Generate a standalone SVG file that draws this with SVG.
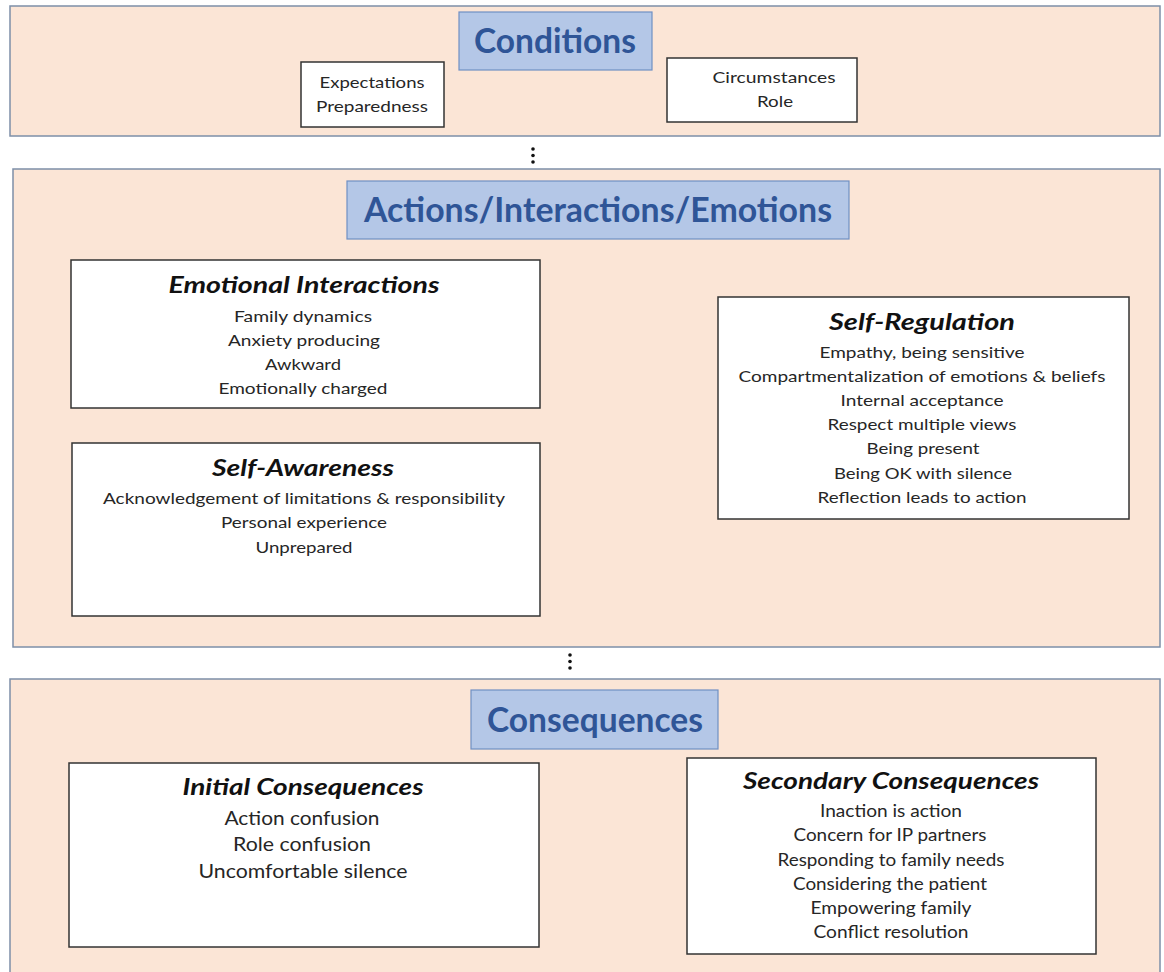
<svg xmlns="http://www.w3.org/2000/svg" width="1164" height="972" viewBox="0 0 1164 972">
<style>
.panel{fill:#fbe5d6;stroke:#7d8fa8;stroke-width:1.5}
.hbox{fill:#b4c7e7;stroke:#6f8fc4;stroke-width:1.2}
.htxt{font-family:Lato,"Liberation Sans",sans-serif;font-weight:bold;fill:#2f5597;text-anchor:middle;font-size:34px}
.box{fill:#ffffff;stroke:#333333;stroke-width:1.5}
.ttl{font-family:Lato,"Liberation Sans",sans-serif;font-weight:bold;font-style:italic;fill:#111111;text-anchor:middle}
.itm{font-family:Lato,"Liberation Sans",sans-serif;fill:#262626;text-anchor:middle}
.dot{fill:#111111}
</style>
<rect width="1164" height="972" fill="#ffffff"/>

<g id="panel-conditions">
<rect class="panel" x="10" y="6" width="1150" height="130"/>
</g>
<g id="panel-actions">
<rect class="panel" x="13" y="169" width="1147" height="478"/>
</g>
<g id="panel-consequences">
<rect class="panel" x="10" y="679" width="1150" height="300"/>
</g>

<g id="header-conditions">
<rect class="hbox" x="459" y="12" width="193" height="58"/>
<text class="htxt" x="555" y="53" textLength="162" lengthAdjust="spacingAndGlyphs">Conditions</text>
</g>
<g id="header-actions">
<rect class="hbox" x="347" y="181" width="502" height="58"/>
<text class="htxt" x="598" y="222" textLength="468" lengthAdjust="spacingAndGlyphs">Actions/Interactions/Emotions</text>
</g>
<g id="header-consequences">
<rect class="hbox" x="471" y="690" width="247" height="59"/>
<text class="htxt" x="595" y="732" textLength="216" lengthAdjust="spacingAndGlyphs">Consequences</text>
</g>

<g id="node-expectations">
<rect class="box" x="301" y="62" width="143" height="65"/>
<text class="itm" font-size="15" x="372" y="88" textLength="105" lengthAdjust="spacingAndGlyphs">Expectations</text>
<text class="itm" font-size="15" x="372" y="112" textLength="112" lengthAdjust="spacingAndGlyphs">Preparedness</text>
</g>
<g id="node-circumstances">
<rect class="box" x="667" y="58" width="190" height="64"/>
<text class="itm" font-size="15" x="774" y="83" textLength="123" lengthAdjust="spacingAndGlyphs">Circumstances</text>
<text class="itm" font-size="15" x="775" y="107" textLength="36" lengthAdjust="spacingAndGlyphs">Role</text>
</g>

<g id="node-emotional-interactions">
<rect class="box" x="71" y="260" width="469" height="148"/>
<text class="ttl" font-size="22" x="304" y="293" textLength="271" lengthAdjust="spacingAndGlyphs">Emotional Interactions</text>
<text class="itm" font-size="16" x="303" y="322" textLength="138" lengthAdjust="spacingAndGlyphs">Family dynamics</text>
<text class="itm" font-size="16" x="304" y="346" textLength="152" lengthAdjust="spacingAndGlyphs">Anxiety producing</text>
<text class="itm" font-size="16" x="303" y="370" textLength="76" lengthAdjust="spacingAndGlyphs">Awkward</text>
<text class="itm" font-size="16" x="303" y="394" textLength="169" lengthAdjust="spacingAndGlyphs">Emotionally charged</text>
</g>

<g id="node-self-awareness">
<rect class="box" x="72" y="443" width="468" height="173"/>
<text class="ttl" font-size="22" x="303" y="476" textLength="182" lengthAdjust="spacingAndGlyphs">Self-Awareness</text>
<text class="itm" font-size="16" x="304" y="504" textLength="402" lengthAdjust="spacingAndGlyphs">Acknowledgement of limitations &amp; responsibility</text>
<text class="itm" font-size="16" x="304" y="528" textLength="166" lengthAdjust="spacingAndGlyphs">Personal experience</text>
<text class="itm" font-size="16" x="304" y="553" textLength="97" lengthAdjust="spacingAndGlyphs">Unprepared</text>
</g>

<g id="node-self-regulation">
<rect class="box" x="718" y="297" width="411" height="222"/>
<text class="ttl" font-size="22" x="922" y="330" textLength="186" lengthAdjust="spacingAndGlyphs">Self-Regulation</text>
<text class="itm" font-size="16" x="922" y="358" textLength="205" lengthAdjust="spacingAndGlyphs">Empathy, being sensitive</text>
<text class="itm" font-size="16" x="922" y="382" textLength="367" lengthAdjust="spacingAndGlyphs">Compartmentalization of emotions &amp; beliefs</text>
<text class="itm" font-size="16" x="922" y="406" textLength="163" lengthAdjust="spacingAndGlyphs">Internal acceptance</text>
<text class="itm" font-size="16" x="922" y="430" textLength="189" lengthAdjust="spacingAndGlyphs">Respect multiple views</text>
<text class="itm" font-size="16" x="923" y="454" textLength="113" lengthAdjust="spacingAndGlyphs">Being present</text>
<text class="itm" font-size="16" x="923" y="479" textLength="178" lengthAdjust="spacingAndGlyphs">Being OK with silence</text>
<text class="itm" font-size="16" x="922" y="503" textLength="209" lengthAdjust="spacingAndGlyphs">Reflection leads to action</text>
</g>

<g id="node-initial-consequences">
<rect class="box" x="69" y="763" width="470" height="184"/>
<text class="ttl" font-size="22" x="303" y="795" textLength="241" lengthAdjust="spacingAndGlyphs">Initial Consequences</text>
<text class="itm" font-size="19" x="302" y="825" textLength="155" lengthAdjust="spacingAndGlyphs">Action confusion</text>
<text class="itm" font-size="19" x="302" y="851" textLength="138" lengthAdjust="spacingAndGlyphs">Role confusion</text>
<text class="itm" font-size="19" x="303" y="878" textLength="209" lengthAdjust="spacingAndGlyphs">Uncomfortable silence</text>
</g>

<g id="node-secondary-consequences">
<rect class="box" x="687" y="758" width="409" height="196"/>
<text class="ttl" font-size="22" x="891" y="789" textLength="296" lengthAdjust="spacingAndGlyphs">Secondary Consequences</text>
<text class="itm" font-size="17" x="891" y="817" textLength="142" lengthAdjust="spacingAndGlyphs">Inaction is action</text>
<text class="itm" font-size="17" x="890" y="841" textLength="193" lengthAdjust="spacingAndGlyphs">Concern for IP partners</text>
<text class="itm" font-size="17" x="891" y="866" textLength="227" lengthAdjust="spacingAndGlyphs">Responding to family needs</text>
<text class="itm" font-size="17" x="890" y="890" textLength="194" lengthAdjust="spacingAndGlyphs">Considering the patient</text>
<text class="itm" font-size="17" x="891" y="914" textLength="161" lengthAdjust="spacingAndGlyphs">Empowering family</text>
<text class="itm" font-size="17" x="891" y="938" textLength="155" lengthAdjust="spacingAndGlyphs">Conflict resolution</text>
</g>

<g id="connectors">
<circle class="dot" cx="533" cy="149" r="1.8"/>
<circle class="dot" cx="533" cy="155.5" r="1.8"/>
<circle class="dot" cx="533" cy="162" r="1.8"/>
<circle class="dot" cx="570" cy="655" r="1.8"/>
<circle class="dot" cx="570" cy="661.5" r="1.8"/>
<circle class="dot" cx="570" cy="668" r="1.8"/>
</g>
</svg>
